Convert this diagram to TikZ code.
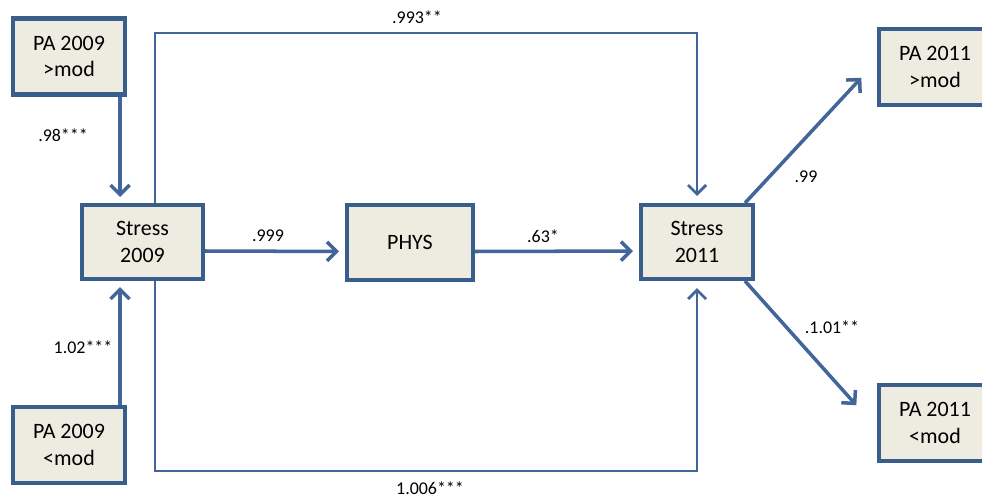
\documentclass[tikz,border=0pt]{standalone}
\usepackage{fontspec}
\setmainfont{Carlito}
\usetikzlibrary{arrows.meta}
\definecolor{boxline}{HTML}{3A5E8C}
\definecolor{boxfill}{HTML}{EEECE1}
\definecolor{pathline}{HTML}{42659A}
\tikzset{
  var/.style={draw=boxline, fill=boxfill, line width=2.3pt, align=center,
    minimum width=2.24cm, minimum height=1.52cm, inner sep=0pt,
    font=\fontsize{12.5}{15.3}\selectfont},
  coef/.style={font=\fontsize{10.2}{12}\selectfont, inner sep=0pt},
  bigpath/.style={draw=pathline, line width=2pt,
    -{Straight Barb[length=0.19cm,width=0.38cm,line width=2pt]}, shorten >=0.12cm},
  smallpath/.style={draw=pathline, line width=1.2pt,
    -{Straight Barb[length=0.18cm,width=0.36cm,line width=1.6pt]}, shorten >=0.14cm}
}
\begin{document}
\begin{tikzpicture}[x=0.02cm,y=-0.02cm]
		\useasboundingbox (0,0) rectangle (982,500);

		\node[var] (pa09hi) at (69,56.5) {PA 2009\\>mod};
		\node[var, minimum width=2.42cm, minimum height=1.48cm] (st09) at (142.5,242) {Stress\\2009};
		\node[var] (pa09lo) at (69,445) {PA 2009\\<mod};
		\node[var, minimum width=2.52cm, minimum height=1.5cm] (phys) at (410,242.5) {PHYS};
		\node[var, minimum height=1.48cm] (st11) at (697,242) {Stress\\2011};
		\node[var] (pa11hi) at (935,67) {PA 2011\\>mod};
		\node[var] (pa11lo) at (935,423) {PA 2011\\<mod};

		\coordinate (top) at (420,33);
		\coordinate (bot) at (420,471);

		\draw[bigpath] ([xshift=-0.14cm]pa09hi.south east) coordinate (a) -- (a |- st09.north);
		\draw[bigpath] ([xshift=-0.14cm]pa09lo.north east) coordinate (b) -- (b |- st09.south);
		\draw[smallpath] ([xshift=0.25cm]st09.north) |- (top) -| (st11.north);
		\draw[smallpath] ([xshift=0.25cm]st09.south) |- (bot) -| (st11.south);
		\draw[bigpath] ([yshift=-0.18cm]st09.east) -- ([yshift=-0.18cm]phys.west);
		\draw[bigpath] ([yshift=-0.18cm]phys.east) -- ([yshift=-0.18cm]st11.west);
		\draw[bigpath, shorten >=0.02cm] ([xshift=-0.2cm]st11.north east) -- ([xshift=-0.3cm,yshift=-0.2cm]pa11hi.west);
		\draw[bigpath, shorten >=0.02cm] ([xshift=-0.2cm]st11.south east) -- ([xshift=-0.4cm,yshift=0.34cm]pa11lo.west);

		\node[coef] (l1) at (417,17) {.993**};
		\node[coef] (l2) at (63,135) {.98***};
		\node[coef] (l3) at (83,347) {1.02***};
		\node[coef] (l4) at (268,236) {.999};
		\node[coef] (l5) at (543,236) {.63*};
		\node[coef] (l6) at (806,177) {.99};
		\node[coef] (l7) at (832,327) {.1.01**};
		\node[coef] (l8) at (430,488) {1.006***};
		\end{tikzpicture}
\end{document}
